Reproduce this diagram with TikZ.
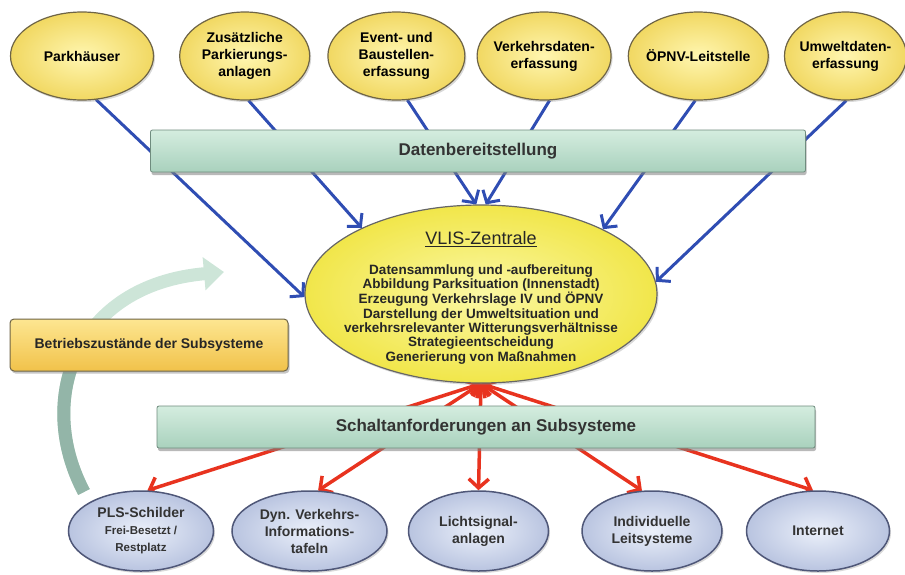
\documentclass[tikz,border=0pt]{standalone}
\usepackage{fontspec}
\setmainfont{Liberation Sans}
\usetikzlibrary{positioning,shapes.geometric,arrows.meta,shadows,backgrounds}

\definecolor{srcin}{HTML}{FFF6B0}
\definecolor{srcout}{HTML}{F1D862}
\definecolor{srcline}{HTML}{6E6446}
\definecolor{vlisin}{HTML}{FBF8A4}
\definecolor{vlisout}{HTML}{F1E64A}
\definecolor{barin}{HTML}{D4EDDF}
\definecolor{barout}{HTML}{A9D1BD}
\definecolor{barline}{HTML}{6F8C7E}
\definecolor{subin}{HTML}{EBF0FA}
\definecolor{subout}{HTML}{B9C4E0}
\definecolor{subline}{HTML}{4F5778}
\definecolor{statein}{HTML}{FDE691}
\definecolor{stateout}{HTML}{F1C24A}
\definecolor{bluearr}{HTML}{2F4DB3}
\definecolor{redarr}{HTML}{E8331F}
\definecolor{greenlt}{HTML}{CDE5D8}
\definecolor{greendk}{HTML}{93B5A8}

\begin{document}
\begin{tikzpicture}[x=1pt,y=-1pt,
    src/.style={ellipse,draw=srcline,line width=1.2pt,inner color=srcin,outer color=srcout,
      minimum width=#1,minimum height=88pt,inner xsep=-6pt,inner ysep=0pt,align=center,
      font=\fontsize{14}{17}\selectfont\bfseries,
      drop shadow={shadow xshift=1.5pt,shadow yshift=-2pt,opacity=.3}},
    sub/.style={ellipse,draw=subline,line width=1.5pt,inner color=subin,outer color=subout,
      minimum width=#1,minimum height=80pt,inner xsep=-6pt,inner ysep=0pt,align=center,
      font=\fontsize{14}{17}\selectfont\bfseries,text=black!80,
      drop shadow={shadow xshift=1.5pt,shadow yshift=-2pt,opacity=.3}},
    bar/.style={rectangle,rounded corners=2pt,draw=barline,line width=.8pt,
      top color=barin,bottom color=barout,minimum width=#1,minimum height=42pt,
      font=\fontsize{17}{20}\selectfont\bfseries,text=black!80,
      drop shadow={shadow xshift=1pt,shadow yshift=-3pt,opacity=.55}},
    statebox/.style={rectangle,rounded corners=4pt,draw=srcline,line width=1pt,
      top color=statein,bottom color=stateout,minimum width=278pt,minimum height=52pt,
      font=\fontsize{14}{17}\selectfont\bfseries,text=black!85,
      drop shadow={shadow xshift=1.5pt,shadow yshift=-2.5pt,opacity=.45}},
    data/.style={draw=bluearr,line width=3pt,-{Straight Barb[length=9pt,width=20pt]}},
    cmd/.style={draw=redarr,line width=3.5pt,
      {Straight Barb[length=9pt,width=20pt]}-{Straight Barb[length=9pt,width=20pt]}},
    feedback/.style={draw=greenlt,line width=13pt,-{Triangle[length=20pt,width=32pt]}}]
  \useasboundingbox (0,0) rectangle (905,574);

  % Datenquellen
  \node[src=143pt] (park) at (82,56) {Parkhäuser};
  \node[src=130pt,right=25pt of park] (zus) {Zusätzliche\\Parkierungs-\\anlagen};
  \node[src=137pt,right=17pt of zus] (event) {Event- und\\Baustellen-\\erfassung};
  \node[src=134pt,right=11pt of event] (verk) {Verkehrsdaten-\\erfassung};
  \node[src=140pt,right=16pt of verk] (oepnv) {ÖPNV-Leitstelle};
  \node[src=122pt,right=15pt of oepnv] (umwelt) {Umweltdaten-\\erfassung};

  \node[bar=655pt] (bereit) at (478,151) {Datenbereitstellung};

  % Zentrale
  \node[ellipse,draw=black!60,line width=1.2pt,inner color=vlisin,outer color=vlisout,
    minimum width=352pt,minimum height=178pt,inner xsep=-18pt,inner ysep=-8pt,
    align=center,font=\fontsize{13.5}{14.3}\selectfont\bfseries,text=black!85,
    drop shadow={shadow xshift=1.5pt,shadow yshift=-2pt,opacity=.3}] (vlis) at (481,294)
    {\rule{0pt}{21pt}{\fontsize{18}{20}\selectfont\mdseries\underline{VLIS-Zentrale}}\\[15pt]
     Datensammlung und -aufbereitung\\
     Abbildung Parksituation (Innenstadt)\\
     Erzeugung Verkehrslage IV und ÖPNV\\
     Darstellung der Umweltsituation und\\
     verkehrsrelevanter Witterungsverhältnisse\\
     Strategieentscheidung\\
     Generierung von Maßnahmen};

  \node[statebox] (betrieb) at (149,345) {Betriebszustände der Subsysteme};
  \node[bar=658pt] (schalt) at (486,427) {Schaltanforderungen an Subsysteme};

  % Subsysteme
  \node[sub=145pt] (pls) at (141,531) {PLS-Schilder\\
    {\fontsize{11.5}{14}\selectfont Frei-Besetzt /}\\{\fontsize{11.5}{14}\selectfont Restplatz}};
  \node[sub=155pt,right=17pt of pls] (dyn) {Dyn. Verkehrs-\\Informations-\\tafeln};
  \node[sub=140pt,right=20pt of dyn] (licht) {Lichtsignal-\\anlagen};
  \node[sub=140pt,right=32pt of licht] (indiv) {Individuelle\\Leitsysteme};
  \node[sub=143pt,right=23pt of indiv] (internet) {Internet};

  \begin{scope}[on background layer]
    \coordinate (fbtail) at (84,492); \coordinate (fbtip) at (224,272);
    \draw[feedback] (fbtail) .. controls (35,400) and (75,285) .. (fbtip);
    \begin{scope}
      \clip (0,372) rectangle (300,574);
      \draw[feedback,draw=greendk] (fbtail) .. controls (35,400) and (75,285) .. (fbtip);
    \end{scope}

    \draw[data] (park.-72) -- (vlis.181); \draw[data] (zus.-85) -- (vlis.151);
    \draw[data] (event.-76) -- (vlis.93); \draw[data] (verk.-83) -- (vlis.87);
    \draw[data] (oepnv.-94) -- (vlis.28); \draw[data] (umwelt.-89) -- (vlis.4);

    \draw[cmd] (vlis.south) -- (pls.81); \draw[cmd] (vlis.south) -- (dyn.78);
    \draw[cmd] (vlis.south) -- (licht.north); \draw[cmd] (vlis.south) -- (indiv.104);
    \draw[cmd] (vlis.south) -- (internet.97);
  \end{scope}
\end{tikzpicture}
\end{document}
